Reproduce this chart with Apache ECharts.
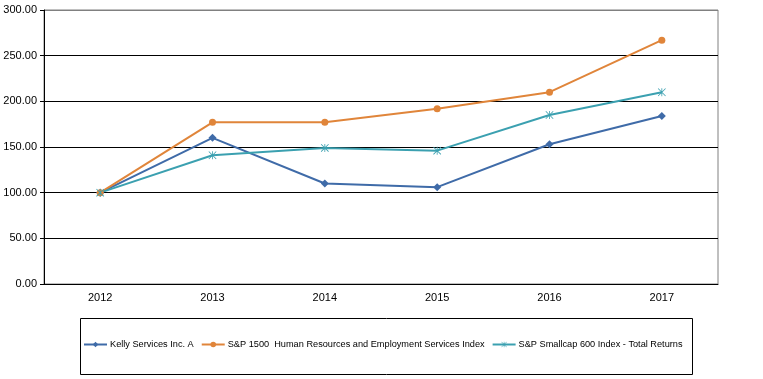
<!DOCTYPE html>
<html><head><meta charset="utf-8">
<script src="https://cdn.jsdelivr.net/npm/echarts@6/dist/echarts.min.js"></script>
<style>html,body{margin:0;padding:0;background:#fff}#c{width:763px;height:379px}</style>
</head><body><div id="c"></div>
<script>
var categories = ['2012','2013','2014','2015','2016','2017'];
var kellyName = 'Kelly Services Inc. A';
var hrName = 'S&P 1500  Human Resources and Employment Services Index';
var smallName = 'S&P Smallcap 600 Index - Total Returns';
var kelly = [100, 160, 110, 106, 153, 184];
var hrIndex = [100, 177, 177, 192, 210, 267];
var smallcap = [100, 141, 149, 146, 185, 210];

var asterisk = 'path://M4.5 0L5.5 0L5.5 10L4.5 10ZM0 0.7L0.7 0L10 9.3L9.3 10ZM9.3 0L10 0.7L0.7 10L0 9.3Z';
var font = 'Liberation Sans, Arial, sans-serif';
var chart = echarts.init(document.getElementById('c'));
chart.setOption({
  animation: false,
  backgroundColor: '#fff',
  grid: {left: 44, right: 45, top: 10, bottom: 95, show: true, borderColor: '#808080', borderWidth: 1},
  graphic: [{type: 'rect', shape: {x: 80.5, y: 318.5, width: 612, height: 56}, style: {fill: 'none', stroke: '#000', lineWidth: 1}, z: 0}],
  legend: {
    top: 340, left: 83, padding: 0,
    itemWidth: 23, itemHeight: 7, itemGap: 7,
    textStyle: {fontFamily: font, fontSize: 9.2, color: '#000', padding: [0, 0, 0, -2]},
    data: [kellyName, hrName, smallName]
  },
  xAxis: {
    type: 'category', data: categories, boundaryGap: true,
    axisLine: {lineStyle: {color: '#000', width: 1}},
    axisTick: {alignWithLabel: true, length: 4, lineStyle: {color: '#000'}},
    axisLabel: {fontFamily: font, fontSize: 11, color: '#000', margin: 8}
  },
  yAxis: {
    type: 'value', min: 0, max: 300, interval: 50,
    axisLine: {show: true, lineStyle: {color: '#000', width: 1}},
    axisTick: {show: true, length: 4, lineStyle: {color: '#000'}},
    axisLabel: {fontFamily: font, fontSize: 11, color: '#000', margin: 7, formatter: function(v){return v.toFixed(2);}},
    splitLine: {lineStyle: {color: ['#000','#000','#000','#000','#000','#000','#808080'], width: 1}}
  },
  series: [
    {name: kellyName, type: 'line', data: kelly, symbol: 'diamond', symbolSize: 8,
     itemStyle: {color: '#3F6BA8'}, lineStyle: {width: 2, color: '#3F6BA8'}},
    {name: hrName, type: 'line', data: hrIndex, symbol: 'circle', symbolSize: 7,
     itemStyle: {color: '#E0853A'}, lineStyle: {width: 2, color: '#E0853A'}},
    {name: smallName, type: 'line', data: smallcap, symbol: asterisk, symbolSize: 8,
     itemStyle: {color: '#3BA0B0'}, lineStyle: {width: 2, color: '#3BA0B0'}}
  ]
});
</script></body></html>
